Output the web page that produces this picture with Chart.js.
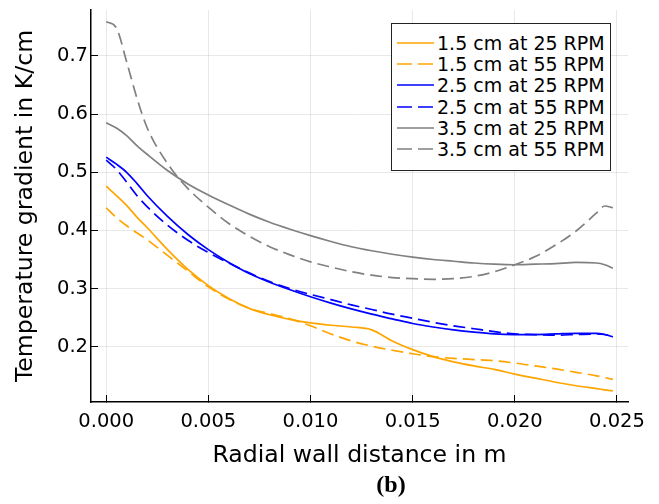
<!DOCTYPE html>
<html>
<head>
<meta charset="utf-8">
<script src="https://cdn.jsdelivr.net/npm/chart.js@4.4.1/dist/chart.umd.min.js"></script>
<style>
    body { margin: 0; background: #fff; }
    #wrap { position: relative; width: 659px; height: 504px; font-family: "DejaVu Sans", sans-serif; }
    #legend {
        position: absolute; left: 391px; top: 23px; width: 220px; height: 148px;
        box-sizing: border-box; border: 1px solid #222; background: #fff; padding-top: 8.5px;
    }
    .row { height: 21.2px; display: flex; align-items: center; font-size: 19px; white-space: nowrap; color: #000; }
    .row svg { margin-left: 5px; margin-right: 3px; flex: none; }
    #caption {
        position: absolute; left: 391px; top: 471px; transform: translateX(-50%);
        font: bold 24px "Liberation Serif", serif; line-height: 26px;
    }
</style>
</head>
<body>
<div id="wrap">
    <canvas id="myChart" width="659" height="504"></canvas>
    <div id="legend"></div>
    <div id="caption">(b)</div>
</div>
<script>
    // radial wall distance in m
    const xValues = [0, 0.0005, 0.001, 0.0015, 0.002, 0.003, 0.004, 0.005, 0.006, 0.007, 0.008, 0.009, 0.010,
        0.011, 0.012, 0.013, 0.014, 0.015, 0.016, 0.017, 0.018, 0.019, 0.020, 0.021, 0.022, 0.023, 0.024, 0.0244, 0.0248];

    // temperature gradient in K/cm
    const cm15rpm25 = [0.476, 0.460, 0.443, 0.423, 0.405, 0.367, 0.333, 0.305, 0.283, 0.266, 0.255, 0.247, 0.241,
        0.237, 0.234, 0.229, 0.210, 0.195, 0.183, 0.174, 0.167, 0.161, 0.153, 0.146, 0.139, 0.133, 0.128, 0.126, 0.124];
    const cm15rpm55 = [0.439, 0.422, 0.408, 0.396, 0.384, 0.357, 0.330, 0.303, 0.282, 0.266, 0.257, 0.248, 0.236,
        0.222, 0.210, 0.201, 0.194, 0.188, 0.183, 0.180, 0.178, 0.176, 0.172, 0.167, 0.162, 0.156, 0.150, 0.147, 0.144];
    const cm25rpm25 = [0.526, 0.514, 0.500, 0.481, 0.460, 0.424, 0.393, 0.367, 0.345, 0.326, 0.311, 0.298, 0.286,
        0.275, 0.265, 0.256, 0.248, 0.240, 0.234, 0.229, 0.225, 0.222, 0.221, 0.221, 0.222, 0.223, 0.223, 0.221, 0.217];
    const cm25rpm55 = [0.521, 0.505, 0.483, 0.460, 0.441, 0.409, 0.383, 0.362, 0.344, 0.327, 0.312, 0.300, 0.290,
        0.281, 0.272, 0.264, 0.256, 0.249, 0.242, 0.236, 0.231, 0.226, 0.222, 0.221, 0.220, 0.221, 0.222, 0.221, 0.217];
    const cm35rpm25 = [0.585, 0.576, 0.563, 0.546, 0.531, 0.503, 0.480, 0.461, 0.444, 0.428, 0.414, 0.402, 0.391,
        0.381, 0.372, 0.365, 0.359, 0.354, 0.350, 0.347, 0.344, 0.342, 0.341, 0.342, 0.343, 0.345, 0.344, 0.341, 0.335];
    const cm35rpm55 = [0.759, 0.748, 0.690, 0.628, 0.577, 0.515, 0.472, 0.440, 0.412, 0.390, 0.372, 0.358, 0.346,
        0.337, 0.329, 0.323, 0.319, 0.317, 0.316, 0.317, 0.321, 0.329, 0.341, 0.355, 0.375, 0.399, 0.430, 0.442, 0.439];

    const seriesLabels = ['1.5 cm at 25 RPM', '1.5 cm at 55 RPM', '2.5 cm at 25 RPM',
        '2.5 cm at 55 RPM', '3.5 cm at 25 RPM', '3.5 cm at 55 RPM'];
    const seriesValues = [cm15rpm25, cm15rpm55, cm25rpm25, cm25rpm55, cm35rpm25, cm35rpm55];

    const xTickValues = [0, 0.005, 0.010, 0.015, 0.020, 0.025];
    const yTickValues = [0.2, 0.3, 0.4, 0.5, 0.6, 0.7];

    const lineColors = ['#ffa500', '#ffa500', '#0000ff', '#0000ff', '#808080', '#808080'];
    const lineDashed = [false, true, false, true, false, true];

    Chart.defaults.font.family = '"DejaVu Sans", sans-serif';
    Chart.defaults.color = '#000';

    var ctx = document.getElementById('myChart').getContext('2d');

    const datasets = seriesValues.map((vals, i) => ({
        label: seriesLabels[i],
        data: xValues.map((x, j) => ({ x: x, y: vals[j] })),
        borderColor: lineColors[i],
        backgroundColor: lineColors[i],
        borderWidth: 1.7,
        borderDash: lineDashed[i] ? [12, 6] : [],
        pointRadius: 0,
        fill: false,
        tension: 0.4,
        cubicInterpolationMode: 'monotone',
    }));

    var lineChart = new Chart(ctx, {
        type: 'line',
        data: { datasets: datasets },
        options: {
            responsive: false,
            animation: false,
            devicePixelRatio: 1,
            layout: { padding: { top: 10, right: 31, bottom: 32, left: 0 } },
            plugins: {
                legend: { display: false },
                tooltip: { enabled: false },
            },
            scales: {
                x: {
                    type: 'linear',
                    min: -0.000744,
                    max: 0.02554,
                    afterBuildTicks: axis => { axis.ticks = xTickValues.map(v => ({ value: v })); },
                    afterFit: axis => {
                        axis.height = 70;
                        axis.paddingLeft = 0;
                        axis.paddingRight = 0;
                    },
                    border: { color: '#000', width: 1.5 },
                    grid: { color: 'rgba(0,0,0,0.09)', tickLength: -7, tickColor: '#000', tickWidth: 1 },
                    ticks: {
                        padding: 15,
                        maxRotation: 0,
                        autoSkip: false,
                        font: { size: 19.5 },
                        callback: v => v.toFixed(3),
                    },
                    title: {
                        display: true,
                        text: 'Radial wall distance in m',
                        font: { size: 23.6 },
                        padding: { top: 0, bottom: 2 },
                    },
                },
                y: {
                    type: 'linear',
                    min: 0.105,
                    max: 0.779,
                    afterBuildTicks: axis => { axis.ticks = yTickValues.map(v => ({ value: v })); },
                    afterFit: axis => {
                        axis.width = 91;
                        axis.paddingTop = 0;
                        axis.paddingBottom = 0;
                    },
                    border: { color: '#000', width: 1.5 },
                    grid: { color: 'rgba(0,0,0,0.09)', tickLength: -7, tickColor: '#000', tickWidth: 1 },
                    ticks: {
                        padding: 10,
                        font: { size: 19.5 },
                        callback: v => v.toFixed(1),
                    },
                    title: {
                        display: true,
                        text: 'Temperature gradient in K/cm',
                        font: { size: 23.6 },
                        padding: { top: 12, bottom: 0 },
                    },
                },
            },
        },
    });

    // legend inside the plot, built from the chart datasets
    const legendEl = document.getElementById('legend');
    lineChart.data.datasets.forEach(ds => {
        const row = document.createElement('div');
        row.className = 'row';
        const dash = ds.borderDash.length ? 'stroke-dasharray="15 6"' : '';
        row.innerHTML = '<svg width="37" height="6"><line x1="0" y1="3" x2="37" y2="3" stroke="' + ds.borderColor +
            '" stroke-width="1.7" ' + dash + '/></svg><span>' + ds.label + '</span>';
        legendEl.appendChild(row);
    });
</script>
</body>
</html>
